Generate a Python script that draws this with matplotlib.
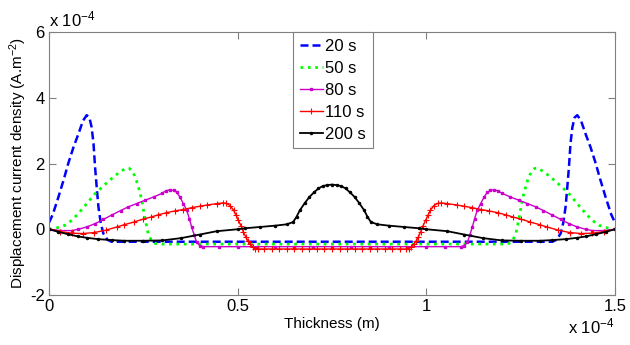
import matplotlib
matplotlib.use("Agg")
import matplotlib.pyplot as plt

plt.rcParams["font.family"] = ["Liberation Sans", "DejaVu Sans"]
plt.rcParams["mathtext.default"] = "regular"

# Thickness positions (x 1e-4 m) and displacement current density (x 1e-4 A/m^2)
t20_x = [0, 0.01, 0.025, 0.04, 0.051, 0.065, 0.078, 0.09, 0.1, 0.107, 0.113, 0.118, 0.122,
         0.127, 0.131, 0.137, 0.144, 0.155, 0.166, 0.2, 0.3, 0.4, 0.5, 0.6, 0.7, 0.75,
         0.8, 0.9, 1.0, 1.1, 1.2, 1.3, 1.334, 1.345, 1.356, 1.363, 1.369, 1.373, 1.378,
         1.382, 1.387, 1.393, 1.4, 1.41, 1.422, 1.435, 1.449, 1.46, 1.475, 1.49, 1.5]
t20_y = [0.2, 0.45, 0.98, 1.55, 2.0, 2.5, 2.9, 3.3, 3.47, 3.4, 3.1, 2.6, 1.9,
         1.2, 0.68, 0.2, -0.13, -0.32, -0.38, -0.38, -0.38, -0.38, -0.38, -0.38, -0.38, -0.38,
         -0.38, -0.38, -0.38, -0.38, -0.38, -0.38, -0.38, -0.32, -0.13, 0.2, 0.68, 1.2, 1.9,
         2.6, 3.1, 3.4, 3.47, 3.3, 2.9, 2.5, 2.0, 1.55, 0.98, 0.45, 0.2]

t50_x = [0, 0.02, 0.042, 0.06, 0.078, 0.1, 0.122, 0.145, 0.166, 0.185, 0.2, 0.206, 0.213,
         0.219, 0.226, 0.232, 0.239, 0.246, 0.254, 0.263, 0.272, 0.281, 0.3, 0.4, 0.5, 0.6,
         0.7, 0.75, 0.8, 0.9, 1.0, 1.1, 1.2, 1.219, 1.228, 1.237, 1.246, 1.254, 1.261, 1.268,
         1.274, 1.281, 1.287, 1.294, 1.3, 1.315, 1.334, 1.355, 1.378, 1.4, 1.422, 1.44,
         1.458, 1.48, 1.5]
t50_y = [0, 0.04, 0.12, 0.27, 0.48, 0.78, 1.08, 1.33, 1.54, 1.72, 1.83, 1.86, 1.85,
         1.78, 1.65, 1.47, 1.2, 0.88, 0.35, -0.15, -0.35, -0.43, -0.45, -0.45, -0.45, -0.45,
         -0.45, -0.45, -0.45, -0.45, -0.45, -0.45, -0.45, -0.43, -0.35, -0.15, 0.35, 0.88, 1.2, 1.47,
         1.65, 1.78, 1.85, 1.86, 1.83, 1.72, 1.54, 1.33, 1.08, 0.78, 0.48, 0.27,
         0.12, 0.04, 0]

t80_x = [0, 0.03, 0.06, 0.078, 0.1, 0.122, 0.144, 0.166, 0.19, 0.21, 0.232, 0.254, 0.277,
         0.299, 0.31, 0.32, 0.33, 0.338, 0.347, 0.356, 0.365, 0.372, 0.378, 0.385, 0.391,
         0.4, 0.409, 0.45, 0.5, 0.55, 0.6, 0.65, 0.7, 0.75,
         0.8, 0.85, 0.9, 0.95, 1.0, 1.05, 1.091, 1.1, 1.109, 1.115, 1.122, 1.128, 1.135,
         1.144, 1.153, 1.162, 1.17, 1.18, 1.19, 1.201, 1.223, 1.246, 1.268, 1.29, 1.31,
         1.334, 1.356, 1.378, 1.4, 1.422, 1.44, 1.47, 1.5]
t80_y = [0, -0.04, -0.04, 0.0, 0.07, 0.17, 0.3, 0.43, 0.57, 0.68, 0.78, 0.88, 0.98,
         1.09, 1.17, 1.2, 1.18, 1.13, 0.98, 0.78, 0.58, 0.32, 0.07, -0.18, -0.39,
         -0.5, -0.53, -0.53, -0.53, -0.53, -0.53, -0.53, -0.53, -0.53,
         -0.53, -0.53, -0.53, -0.53, -0.53, -0.53, -0.53, -0.5, -0.39, -0.18, 0.07, 0.32, 0.58,
         0.78, 0.98, 1.13, 1.18, 1.2, 1.17, 1.09, 0.98, 0.88, 0.78, 0.68, 0.57,
         0.43, 0.3, 0.17, 0.07, 0.0, -0.04, -0.04, 0]

t110_x = [0, 0.03, 0.06, 0.09, 0.12, 0.15, 0.18, 0.2, 0.225, 0.25, 0.27, 0.29, 0.31, 0.335,
          0.355, 0.38, 0.4, 0.42, 0.445, 0.46, 0.47, 0.48, 0.489, 0.496, 0.502, 0.509, 0.515,
          0.522, 0.528, 0.533, 0.54, 0.546, 0.555, 0.57, 0.59, 0.61, 0.63, 0.65, 0.67, 0.69,
          0.71, 0.73, 0.75, 0.77, 0.79, 0.81, 0.83, 0.85, 0.87, 0.89, 0.91, 0.93, 0.945,
          0.954, 0.96, 0.967, 0.972, 0.978, 0.985, 0.991, 0.998, 1.004, 1.011, 1.02, 1.03,
          1.04, 1.055, 1.08, 1.1, 1.12, 1.145, 1.165, 1.19, 1.21, 1.23, 1.25, 1.275, 1.3,
          1.32, 1.35, 1.38, 1.41, 1.44, 1.47, 1.5]
t110_y = [0, -0.07, -0.12, -0.13, -0.1, -0.03, 0.07, 0.14, 0.22, 0.31, 0.37, 0.44, 0.5, 0.56,
          0.6, 0.66, 0.7, 0.74, 0.78, 0.8, 0.79, 0.72, 0.58, 0.42, 0.27, 0.1, -0.08,
          -0.25, -0.37, -0.45, -0.54, -0.59, -0.6, -0.6, -0.6, -0.6, -0.6, -0.6, -0.6, -0.6,
          -0.6, -0.6, -0.6, -0.6, -0.6, -0.6, -0.6, -0.6, -0.6, -0.6, -0.6, -0.6, -0.6,
          -0.59, -0.54, -0.45, -0.37, -0.25, -0.08, 0.1, 0.27, 0.42, 0.58, 0.72, 0.79,
          0.8, 0.78, 0.74, 0.7, 0.66, 0.6, 0.56, 0.5, 0.44, 0.37, 0.31, 0.22, 0.14,
          0.07, -0.03, -0.1, -0.13, -0.12, -0.07, 0]

t200_x = [0, 0.025, 0.05, 0.078, 0.1, 0.13, 0.166, 0.2, 0.25, 0.3, 0.35, 0.4, 0.444, 0.5,
          0.52, 0.56, 0.6, 0.63, 0.647, 0.656, 0.665, 0.678, 0.69, 0.702, 0.714, 0.725, 0.736,
          0.75, 0.764, 0.775, 0.786, 0.798, 0.81, 0.822, 0.835, 0.844, 0.853, 0.87, 0.9, 0.94,
          0.98, 1.0, 1.056, 1.1, 1.15, 1.2, 1.25, 1.3, 1.334, 1.37, 1.4, 1.422, 1.45, 1.475, 1.5]
t200_y = [0, -0.08, -0.15, -0.22, -0.26, -0.3, -0.33, -0.35, -0.35, -0.34, -0.27, -0.16, -0.06, 0.0,
          0.03, 0.07, 0.11, 0.15, 0.22, 0.38, 0.58, 0.8, 0.98, 1.12, 1.24, 1.31, 1.34,
          1.36, 1.34, 1.31, 1.24, 1.12, 0.98, 0.8, 0.58, 0.38, 0.22, 0.15, 0.11, 0.07,
          0.03, 0.0, -0.06, -0.16, -0.27, -0.34, -0.35, -0.35, -0.33, -0.3, -0.26, -0.22, -0.15, -0.08, 0]

x_ticks = [0, 0.5, 1, 1.5]
x_tick_labels = ["0", "0.5", "1", "1.5"]
y_ticks = [-2, 0, 2, 4, 6]
y_tick_labels = ["-2", "0", "2", "4", "6"]

fig = plt.figure(figsize=(6.3, 3.45), dpi=100)
ax = fig.add_axes([49 / 630, 50 / 345, 566 / 630, 263 / 345])

ax.plot(t20_x, t20_y, color="#0000ff", linestyle="--", dashes=(3.2, 1.6), linewidth=1.8, label="20 s")
ax.plot(t50_x, t50_y, color="#00ff00", linestyle=":", linewidth=2.0, label="50 s")
ax.plot(t80_x, t80_y, color="#cc00cc", linewidth=1.0, marker="s", markersize=1.5, label="80 s")
ax.plot(t110_x, t110_y, color="#ff0000", linewidth=1.0, marker="+", markersize=4.5,
        markeredgewidth=0.8, label="110 s")
ax.plot(t200_x, t200_y, color="black", linewidth=1.3, marker=".", markersize=3, label="200 s")

ax.set_xlim(0, 1.5)
ax.set_ylim(-2, 6)
ax.set_xticks(x_ticks)
ax.set_xticklabels(x_tick_labels)
ax.set_yticks(y_ticks)
ax.set_yticklabels(y_tick_labels)
ax.tick_params(direction="in", length=5, width=0.8, color="#808080", labelsize=12,
               top=True, right=True, pad=3)
for side in ax.spines.values():
    side.set_color("#808080")
    side.set_linewidth(0.8)

ax.set_xlabel("Thickness (m)", fontsize=11)
ax.xaxis.set_label_coords(0.5, -0.082)
ax.set_ylabel("Displacement current density (A.m$^{-2}$)", fontsize=11)
ax.yaxis.set_label_coords(-0.036, 0.5)

# exponent multipliers, MATLAB style
ax.text(0, 1.01, "x 10$^{-4}$", transform=ax.transAxes, ha="left", va="bottom", fontsize=12)
ax.text(1, -0.08, "x 10$^{-4}$", transform=ax.transAxes, ha="right", va="top", fontsize=12)

leg = ax.legend(loc="upper left", bbox_to_anchor=(0.431, 1.0), borderaxespad=0,
                fontsize=12, handlelength=1.4, handletextpad=0.15, labelspacing=0.42,
                borderpad=0.4, fancybox=False, framealpha=1, edgecolor="#808080")
leg.get_frame().set_linewidth(0.8)

plt.savefig("out.png", dpi=100)
